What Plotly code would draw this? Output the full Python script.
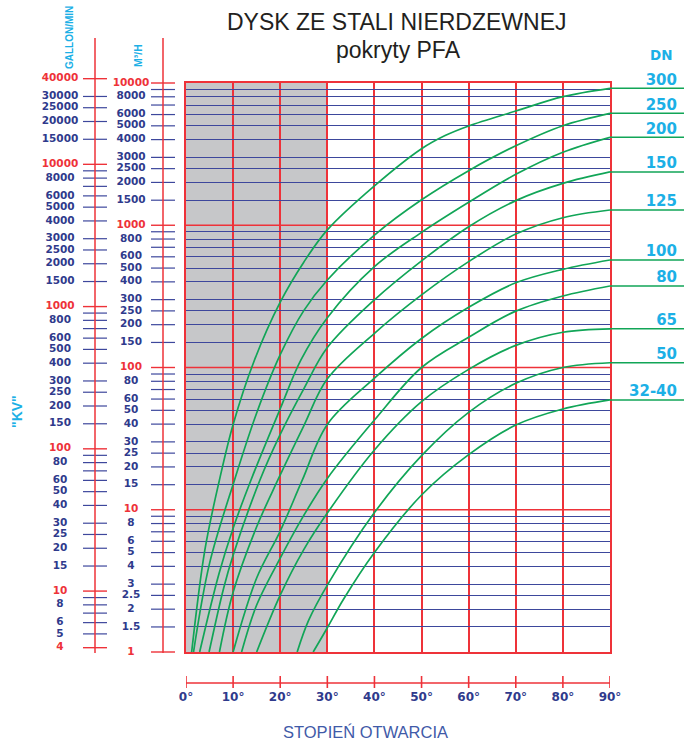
import math
import plotly.graph_objects as go

# ---------------- data ----------------
DN_LABELS = ["300", "250", "200", "150", "125", "100", "80", "65", "50", "32-40"]

deg_300 = [1.2, 4, 7.1, 10, 14.5, 20, 25, 30, 40, 50, 55, 60, 70, 80, 90]
kv_300 = [1, 5.2, 16.2, 39.8, 112, 288, 550, 927, 1890, 3450, 4270, 4990, 6350, 8020, 9180]

deg_250 = [1.6, 5, 10.3, 15, 20, 25, 30, 40, 50, 60, 70, 80, 90]
kv_250 = [1, 4.2, 16.2, 47.9, 123, 251, 412, 853, 1510, 2420, 3620, 5010, 6120]

deg_200 = [2.9, 7, 10, 13.8, 20, 24.4, 30, 40, 50, 60, 70, 80, 90]
kv_200 = [1, 3.55, 7.41, 16.2, 51.3, 113, 224, 512, 891, 1450, 2280, 3260, 4150]

deg_150 = [4.9, 8, 10, 15.7, 20, 25, 30, 40, 50, 60, 70, 80, 90]
kv_150 = [1, 2.82, 4.79, 16.2, 33.9, 70.8, 138, 299, 562, 977, 1490, 1970, 2370]

deg_125 = [7.1, 10, 15, 19.5, 25, 30, 40, 50, 60, 70, 80, 90]
kv_125 = [1, 2.63, 7.59, 16.2, 38.9, 83.2, 174, 324, 555, 867, 1130, 1280]

deg_100 = [10, 15, 20, 24.7, 30, 40, 50, 60, 70, 80, 90]
kv_100 = [1, 3.31, 7.08, 16.2, 39.8, 84.1, 160, 265, 394, 490, 570]

deg_80 = [11.8, 15, 20, 25, 30, 40, 50, 60, 70, 80, 90]
kv_80 = [1, 2.14, 4.57, 9.12, 16.6, 42.7, 100, 163, 249, 318, 374]

deg_65 = [15, 20, 25, 30, 40, 50, 60, 70, 80, 90]
kv_65 = [1, 2.51, 5.25, 9.48, 26.3, 57.5, 97, 143, 177, 187]

deg_50 = [23.6, 26, 30, 40, 50, 60, 70, 80, 90]
kv_50 = [1, 1.66, 2.95, 9.55, 24, 48.4, 77.4, 100, 108]

deg_32_40 = [27, 30, 33.4, 40, 50, 60, 70, 80, 90]
kv_32_40 = [1, 1.48, 2.34, 5.01, 12.7, 24.4, 39.4, 51.1, 59.2]

CURVE_DEG = [deg_300, deg_250, deg_200, deg_150, deg_125, deg_100, deg_80, deg_65, deg_50, deg_32_40]
CURVE_KV = [kv_300, kv_250, kv_200, kv_150, kv_125, kv_100, kv_80, kv_65, kv_50, kv_32_40]

DEG_TICKS = [0, 10, 20, 30, 40, 50, 60, 70, 80, 90]
DEG_TEXT = ["0°", "10°", "20°", "30°", "40°", "50°", "60°", "70°", "80°", "90°"]

M3H_TICKS = [1, 1.5, 2, 2.5, 3, 4, 5, 6, 7, 8, 9,
             10, 15, 20, 25, 30, 40, 50, 60, 70, 80, 90,
             100, 150, 200, 250, 300, 400, 500, 600, 700, 800, 900,
             1000, 1500, 2000, 2500, 3000, 4000, 5000, 6000, 7000, 8000, 9000,
             10000]
M3H_RED = [1, 10, 100, 1000, 10000]
M3H_LABEL_VALS = [1, 1.5, 2, 2.5, 3, 4, 5, 6, 8,
                  10, 15, 20, 25, 30, 40, 50, 60, 80,
                  100, 150, 200, 250, 300, 400, 500, 600, 800,
                  1000, 1500, 2000, 2500, 3000, 4000, 5000, 6000, 8000,
                  10000]
M3H_LABEL_TEXT = ["1", "1.5", "2", "2.5", "3", "4", "5", "6", "8",
                  "10", "15", "20", "25", "30", "40", "50", "60", "80",
                  "100", "150", "200", "250", "300", "400", "500", "600", "800",
                  "1000", "1500", "2000", "2500", "3000", "4000", "5000", "6000", "8000",
                  "10000"]

GAL_TICKS = [4, 5, 6, 7, 8, 9,
             10, 15, 20, 25, 30, 40, 50, 60, 70, 80, 90,
             100, 150, 200, 250, 300, 400, 500, 600, 700, 800, 900,
             1000, 1500, 2000, 2500, 3000, 4000, 5000, 6000, 7000, 8000, 9000,
             10000, 15000, 20000, 25000, 30000, 40000]
GAL_RED = [4, 10, 100, 1000, 10000, 40000]
GAL_LABEL_VALS = [4, 5, 6, 8,
                  10, 15, 20, 25, 30, 40, 50, 60, 80,
                  100, 150, 200, 250, 300, 400, 500, 600, 800,
                  1000, 1500, 2000, 2500, 3000, 4000, 5000, 6000, 8000,
                  10000, 15000, 20000, 25000, 30000, 40000]
GAL_LABEL_TEXT = ["4", "5", "6", "8",
                  "10", "15", "20", "25", "30", "40", "50", "60", "80",
                  "100", "150", "200", "250", "300", "400", "500", "600", "800",
                  "1000", "1500", "2000", "2500", "3000", "4000", "5000", "6000", "8000",
                  "10000", "15000", "20000", "25000", "30000", "40000"]
GAL_PER_M3H = 3.73   # offset between the two left scales

SHADE_DEG = [0, 30]

# ---------------- style / layout constants ----------------
W, H = 685, 740
PX_L, PX_R, PX_T, PX_B = 186, 610, 83, 652
DEC = (PX_B - PX_T) / 4.0
RED = "#ee3239"
NAVY = "#3d479c"
NAVY_TXT = "#2f3a8c"
GRAY = "#c6c7c9"
GREEN = "#11a557"
CYAN = "#1cb0e6"
BOLD = "DejaVu Sans"
LBL = 10.5


def fx(px):
    return px / W


def fy(py):
    return 1 - py / H


fig = go.Figure()

# ---------- curves (main subplot) ----------
for d, k in zip(CURVE_DEG, CURVE_KV):
    fig.add_trace(go.Scatter(x=d, y=k, mode="lines", xaxis="x", yaxis="y",
                             line=dict(color=GREEN, width=1.7, shape="spline", smoothing=1.0),
                             hoverinfo="skip", showlegend=False))

# ---------- DN extension lines + labels (right panel) ----------
for lab, k in zip(DN_LABELS, CURVE_KV):
    fig.add_trace(go.Scatter(x=[0, 74], y=[k[-1], k[-1]], mode="lines", xaxis="x5", yaxis="y6",
                             line=dict(color=GREEN, width=1.5), hoverinfo="skip",
                             showlegend=False, cliponaxis=False))
fig.add_trace(go.Scatter(x=[67] * len(DN_LABELS), y=[k[-1] for k in CURVE_KV], text=DN_LABELS,
                         mode="text", textposition="top left", xaxis="x5", yaxis="y6",
                         textfont=dict(family=BOLD, size=15, color=CYAN, weight="bold"),
                         hoverinfo="skip", showlegend=False, cliponaxis=False))


# ---------- left scales ----------
def seg_lists(vals, x0, x1):
    xs, ys = [], []
    for v in vals:
        xs += [x0, x1, None]
        ys += [v, v, None]
    return xs, ys


m_navy = [v for v in M3H_TICKS if v not in M3H_RED]
xs, ys = seg_lists(m_navy, 151, 175)
fig.add_trace(go.Scatter(x=xs, y=ys, mode="lines", xaxis="x2", yaxis="y2",
                         line=dict(color=NAVY, width=1.2), hoverinfo="skip", showlegend=False))
xs, ys = seg_lists(M3H_RED, 151, 175)
fig.add_trace(go.Scatter(x=xs, y=ys, mode="lines", xaxis="x2", yaxis="y2",
                         line=dict(color=RED, width=1.4), hoverinfo="skip", showlegend=False))
fig.add_trace(go.Scatter(x=[131] * len(M3H_LABEL_VALS), y=M3H_LABEL_VALS, text=M3H_LABEL_TEXT,
                         mode="text", textposition="middle center", xaxis="x2", yaxis="y2",
                         textfont=dict(family=BOLD, size=LBL, weight="bold",
                                       color=[RED if v in M3H_RED else NAVY_TXT for v in M3H_LABEL_VALS]),
                         hoverinfo="skip", showlegend=False, cliponaxis=False))

g_navy = [v for v in GAL_TICKS if v not in GAL_RED]
xs, ys = seg_lists(g_navy, 83, 107)
fig.add_trace(go.Scatter(x=xs, y=ys, mode="lines", xaxis="x2", yaxis="y3",
                         line=dict(color=NAVY, width=1.2), hoverinfo="skip", showlegend=False))
xs, ys = seg_lists(GAL_RED, 83, 107)
fig.add_trace(go.Scatter(x=xs, y=ys, mode="lines", xaxis="x2", yaxis="y3",
                         line=dict(color=RED, width=1.4), hoverinfo="skip", showlegend=False))
fig.add_trace(go.Scatter(x=[60] * len(GAL_LABEL_VALS), y=GAL_LABEL_VALS, text=GAL_LABEL_TEXT,
                         mode="text", textposition="middle center", xaxis="x2", yaxis="y3",
                         textfont=dict(family=BOLD, size=LBL, weight="bold",
                                       color=[RED if v in GAL_RED else NAVY_TXT for v in GAL_LABEL_VALS]),
                         hoverinfo="skip", showlegend=False, cliponaxis=False))

# ---------- bottom degree scale ----------
fig.add_trace(go.Scatter(x=[DEG_TICKS[0], DEG_TICKS[-1]], y=[683, 683], mode="lines",
                         xaxis="x3", yaxis="y4", line=dict(color=RED, width=1.4),
                         hoverinfo="skip", showlegend=False, cliponaxis=False))
xs, ys = [], []
for d in DEG_TICKS:
    xs += [d, d, None]
    ys += [676, 688, None]
fig.add_trace(go.Scatter(x=xs, y=ys, mode="lines", xaxis="x3", yaxis="y4",
                         line=dict(color=RED, width=1.6), hoverinfo="skip",
                         showlegend=False, cliponaxis=False))
fig.add_trace(go.Scatter(x=DEG_TICKS, y=[698] * len(DEG_TICKS), text=DEG_TEXT, mode="text",
                         textposition="middle center", xaxis="x3", yaxis="y4",
                         textfont=dict(family=BOLD, size=12, color=NAVY_TXT, weight="bold"),
                         hoverinfo="skip", showlegend=False, cliponaxis=False))

# ---------- shapes ----------
shapes = [
    dict(type="rect", xref="x", yref="y domain", x0=SHADE_DEG[0], x1=SHADE_DEG[1], y0=0, y1=1,
         fillcolor=GRAY, line=dict(width=0), layer="below"),
]
for v in [10, 100, 1000]:
    shapes.append(dict(type="line", xref="x domain", yref="y", x0=0, x1=1, y0=v, y1=v,
                       line=dict(color=RED, width=1.4), layer="below"))
shapes.append(dict(type="line", xref="x2", yref="y2 domain", x0=163, x1=163, y0=0, y1=1,
                   line=dict(color=RED, width=1.5)))
shapes.append(dict(type="line", xref="x2", yref="y2 domain", x0=95, x1=95, y0=0, y1=1,
                   line=dict(color=RED, width=1.5)))


# ---------- annotations ----------
def note(text, px, py, font, angle=0):
    return dict(text=text, x=fx(px), y=fy(py), xref="paper", yref="paper", showarrow=False,
                xanchor="center", yanchor="middle", textangle=angle, font=font)


NARROW = "Liberation Sans Narrow, Liberation Sans"
ann = [
    note("DYSK ZE STALI NIERDZEWNEJ", 397, 22, dict(family="Liberation Sans", size=23, color="#231f20")),
    note("pokryty PFA", 398, 50, dict(family="Liberation Sans", size=23, color="#231f20")),
    note("DN", 661, 55, dict(family=BOLD, size=13.5, color=CYAN, weight="bold")),
    note("GALLON/MIN", 69, 38, dict(family=NARROW, size=10, color=CYAN, weight="bold"), -90),
    note("M³/H", 138, 56, dict(family=NARROW, size=10.5, color=CYAN, weight="bold"), -90),
    note('"KV"', 17, 412, dict(family="Liberation Sans", size=14, color=CYAN, weight="bold"), -90),
    note("STOPIEŃ OTWARCIA", 366, 732, dict(family="Liberation Sans", size=16.5, color="#3f5aa8")),
]

hidden = dict(visible=False, showgrid=False, zeroline=False, fixedrange=True)

left_dom = [fy(653), fy(38)]
left_rng = [(PX_B - 653) / DEC, (PX_B - 38) / DEC]
gal_shift = math.log10(GAL_PER_M3H)

fig.update_layout(
    width=W, height=H, autosize=False,
    margin=dict(l=0, r=0, t=0, b=0, pad=0),
    paper_bgcolor="white", plot_bgcolor="white",
    showlegend=False,
    shapes=shapes, annotations=ann,
    xaxis=dict(domain=[fx(PX_L), fx(PX_R)], range=[0, 90], tickvals=DEG_TICKS,
               showgrid=True, gridcolor=RED, gridwidth=1.6, showticklabels=False, ticks="",
               showline=True, linecolor=RED, linewidth=1.6, mirror=True, zeroline=False,
               anchor="y", fixedrange=True),
    yaxis=dict(domain=[fy(PX_B), fy(PX_T)], type="log", range=[0, 4],
               tickvals=[v for v in M3H_TICKS if v not in M3H_RED],
               showgrid=True, gridcolor=NAVY, gridwidth=1, showticklabels=False, ticks="",
               showline=True, linecolor=RED, linewidth=1.6, mirror=True, zeroline=False,
               anchor="x", fixedrange=True),
    xaxis2=dict(domain=[0, fx(PX_L)], range=[0, PX_L], anchor="y2", **hidden),
    yaxis2=dict(domain=left_dom, type="log", range=left_rng, anchor="x2", **hidden),
    yaxis3=dict(domain=left_dom, type="log", range=[left_rng[0] + gal_shift, left_rng[1] + gal_shift],
                anchor="x2", overlaying="y2", **hidden),
    xaxis3=dict(domain=[fx(PX_L), fx(PX_R)], range=[0, 90], anchor="y4", **hidden),
    yaxis4=dict(domain=[fy(710), fy(668)], range=[710, 668], anchor="x3", **hidden),
    xaxis5=dict(domain=[fx(PX_R), 1], range=[0, W - PX_R], anchor="y6", **hidden),
    yaxis6=dict(domain=[fy(PX_B), fy(PX_T)], type="log", range=[0, 4], anchor="x5", **hidden),
)

fig.write_html("out.html", config={"displayModeBar": False},
               post_script="document.body.style.margin='0px';document.body.style.overflow='hidden';")
